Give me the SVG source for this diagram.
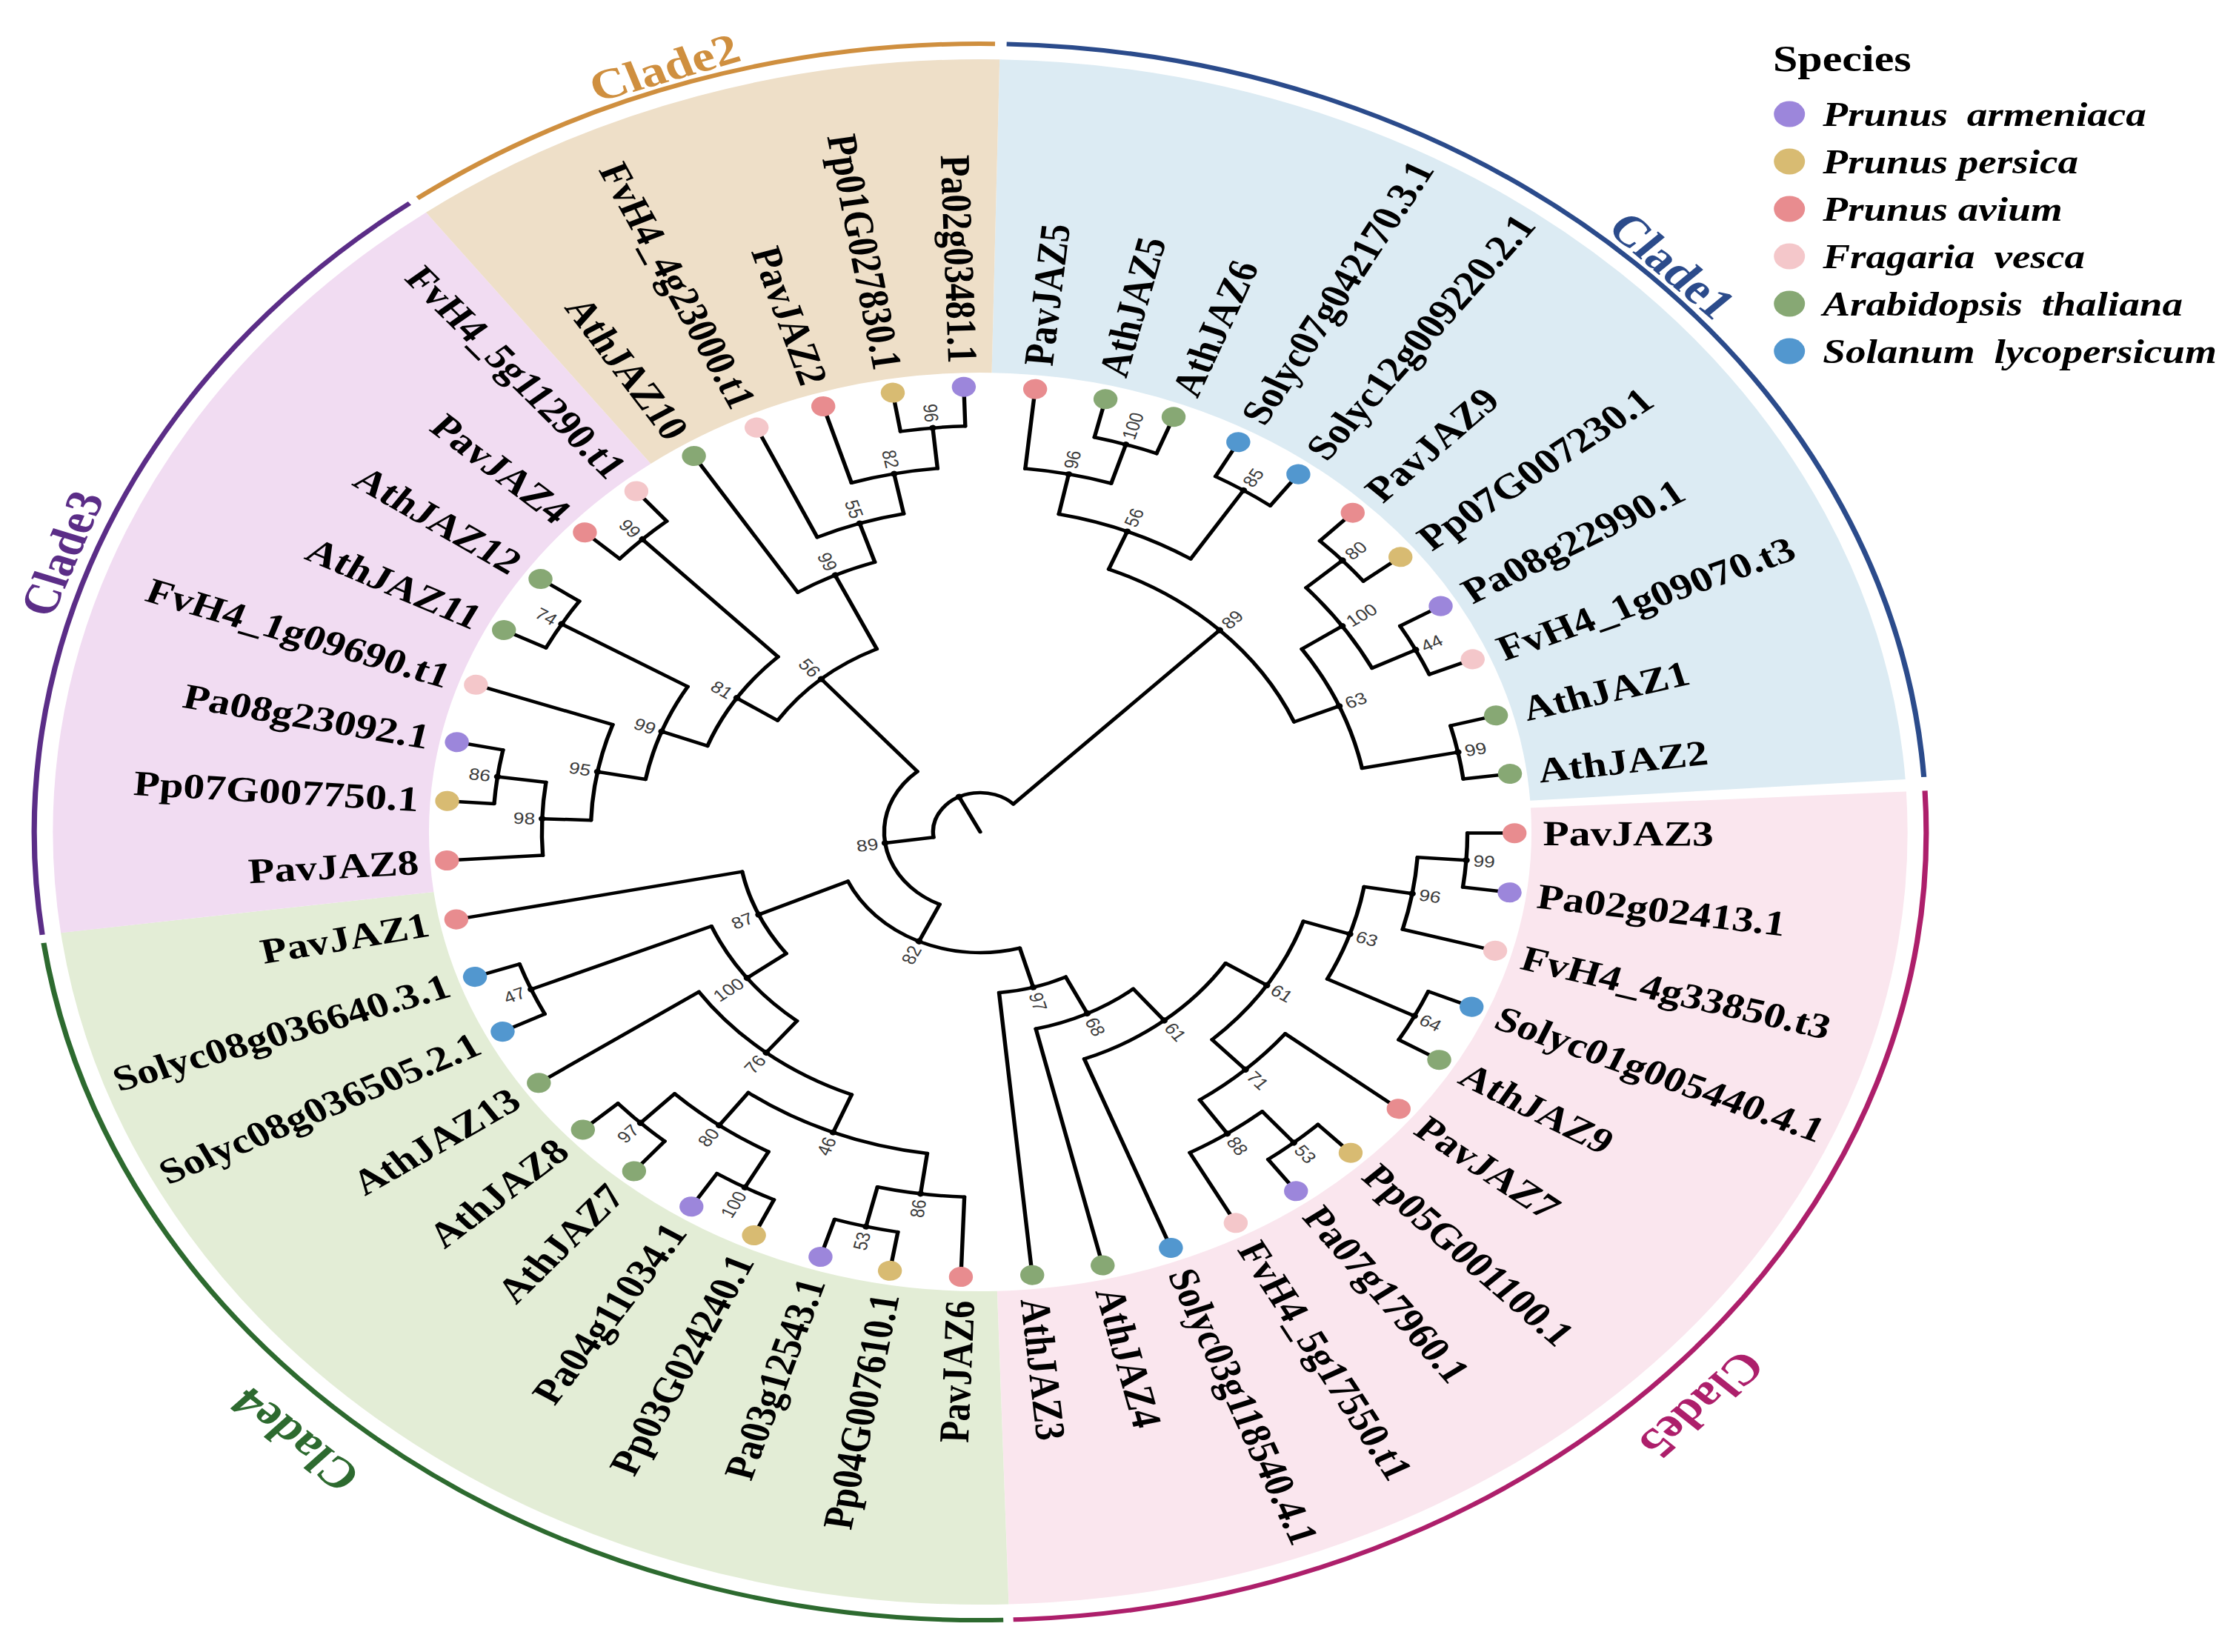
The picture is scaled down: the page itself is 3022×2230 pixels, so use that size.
<svg xmlns="http://www.w3.org/2000/svg" width="3022" height="2230" viewBox="0 0 3022 2230">
<style>
.e{fill:none;stroke:#000;stroke-width:4.5;stroke-linecap:round}
.lf{font-family:"Liberation Serif","Times New Roman",serif;font-size:48px;font-weight:bold;fill:#000}
.bs{font-family:"Liberation Sans",Arial,sans-serif;font-size:22px;fill:#3a3a3a}
.nd{fill:#000}
.cl{font-family:"Liberation Serif","Times New Roman",serif;font-size:58px;font-weight:bold;text-anchor:middle}
.bg{fill:none;stroke-width:423}
.rg{fill:none;stroke-width:6}
.lh{font-family:"Liberation Serif","Times New Roman",serif;font-size:50px;font-weight:bold;fill:#000}
.li{font-family:"Liberation Serif","Times New Roman",serif;font-size:46px;font-weight:bold;font-style:italic;fill:#000}
.pa{fill:#9C86DB}.pp{fill:#D8BB72}.pv{fill:#E88C8F}.fv{fill:#F4C7CA}.at{fill:#87A874}.sl{fill:#5297CF}
</style>
<g transform="translate(1323,1123) scale(1.2,1)">
<g id="clade-backgrounds">
<circle class="bg" r="831.5" pathLength="360" stroke-dasharray="84.9 400" transform="rotate(-88.8)" stroke="#DCEBF3"/>
<circle class="bg" r="831.5" pathLength="360" stroke-dasharray="91.24 400" transform="rotate(-3)" stroke="#FAE6EE"/>
<circle class="bg" r="831.5" pathLength="360" stroke-dasharray="84.26 400" transform="rotate(88.24)" stroke="#E3EDD6"/>
<circle class="bg" r="831.5" pathLength="360" stroke-dasharray="60.8 400" transform="rotate(172.5)" stroke="#F1DCF2"/>
<circle class="bg" r="831.5" pathLength="360" stroke-dasharray="37.9 400" transform="rotate(233.3)" stroke="#EEDFC8"/>
</g>
<g id="clade-rings">
<circle class="rg" r="1064" pathLength="360" stroke-dasharray="84.4 400" transform="rotate(-88.4)" stroke="#2B4B8B"/>
<circle class="rg" r="1064" pathLength="360" stroke-dasharray="91 400" transform="rotate(-3)" stroke="#AD1F6B"/>
<circle class="rg" r="1064" pathLength="360" stroke-dasharray="83.3 400" transform="rotate(88.6)" stroke="#2D6A2F"/>
<circle class="rg" r="1064" pathLength="360" stroke-dasharray="60.4 400" transform="rotate(172.5)" stroke="#5B2D87"/>
<circle class="rg" r="1064" pathLength="360" stroke-dasharray="37.4 400" transform="rotate(233.5)" stroke="#CF8F3F"/>
</g>
<g id="clade-labels">
<text class="cl" y="-1092" dy=".35em" transform="rotate(45.5)" fill="#2B4B8B">Clade1</text>
<text class="cl" y="-1092" dy=".35em" transform="rotate(341)" fill="#CF8F3F">Clade2</text>
<text class="cl" y="-1100" dy=".35em" transform="rotate(290)" fill="#5B2D87">Clade3</text>
<text class="cl" y="-1127" dy=".35em" transform="rotate(223.2)" fill="#2D6A2F">Clade4</text>
<text class="cl" y="-1122" dy=".35em" transform="rotate(133.6)" fill="#AD1F6B">Clade5</text>
</g>
<g id="connectors">
<line class="e" x1="0" x2="53" transform="rotate(243.36)"/>
<line class="e" x1="53" x2="108" transform="rotate(172.05)"/>
<line class="e" x1="53" x2="383" transform="rotate(-45.32)"/>
<line class="e" x1="108" x2="163" transform="rotate(114.99)"/>
<line class="e" x1="108" x2="273" transform="rotate(229.11)"/>
<line class="e" x1="163" x2="218" transform="rotate(74.12)"/>
<line class="e" x1="163" x2="273" transform="rotate(155.86)"/>
<line class="e" x1="218" x2="273" transform="rotate(63.83)"/>
<line class="e" x1="218" x2="601" transform="rotate(84.411)"/>
<line class="e" x1="273" x2="328" transform="rotate(50.90)"/>
<line class="e" x1="273" x2="601" transform="rotate(76.751)"/>
<line class="e" x1="328" x2="383" transform="rotate(32.71)"/>
<line class="e" x1="328" x2="601" transform="rotate(69.092)"/>
<line class="e" x1="383" x2="438" transform="rotate(18.35)"/>
<line class="e" x1="383" x2="438" transform="rotate(47.07)"/>
<line class="e" x1="438" x2="493" transform="rotate(9.73)"/>
<line class="e" x1="438" x2="548" transform="rotate(26.96)"/>
<line class="e" x1="493" x2="548" transform="rotate(3.99)"/>
<line class="e" x1="493" x2="601" transform="rotate(15.475)"/>
<line class="e" x1="548" x2="601" transform="rotate(0.156)"/>
<line class="e" x1="548" x2="601" transform="rotate(7.815)"/>
<line class="e" x1="548" x2="601" transform="rotate(23.134)"/>
<line class="e" x1="548" x2="601" transform="rotate(30.794)"/>
<line class="e" x1="438" x2="601" transform="rotate(38.454)"/>
<line class="e" x1="438" x2="493" transform="rotate(55.69)"/>
<line class="e" x1="493" x2="548" transform="rotate(49.94)"/>
<line class="e" x1="493" x2="601" transform="rotate(61.432)"/>
<line class="e" x1="548" x2="601" transform="rotate(46.113)"/>
<line class="e" x1="548" x2="601" transform="rotate(53.773)"/>
<line class="e" x1="273" x2="328" transform="rotate(143.05)"/>
<line class="e" x1="273" x2="601" transform="rotate(168.667)"/>
<line class="e" x1="328" x2="383" transform="rotate(128.93)"/>
<line class="e" x1="328" x2="548" transform="rotate(157.18)"/>
<line class="e" x1="548" x2="601" transform="rotate(153.348)"/>
<line class="e" x1="548" x2="601" transform="rotate(161.007)"/>
<line class="e" x1="383" x2="438" transform="rotate(112.18)"/>
<line class="e" x1="383" x2="601" transform="rotate(145.688)"/>
<line class="e" x1="438" x2="493" transform="rotate(97.82)"/>
<line class="e" x1="438" x2="493" transform="rotate(126.54)"/>
<line class="e" x1="493" x2="548" transform="rotate(103.56)"/>
<line class="e" x1="493" x2="601" transform="rotate(92.071)"/>
<line class="e" x1="493" x2="548" transform="rotate(118.88)"/>
<line class="e" x1="493" x2="548" transform="rotate(134.20)"/>
<line class="e" x1="548" x2="601" transform="rotate(99.730)"/>
<line class="e" x1="548" x2="601" transform="rotate(107.390)"/>
<line class="e" x1="548" x2="601" transform="rotate(115.049)"/>
<line class="e" x1="548" x2="601" transform="rotate(122.709)"/>
<line class="e" x1="548" x2="601" transform="rotate(130.369)"/>
<line class="e" x1="548" x2="601" transform="rotate(138.028)"/>
<line class="e" x1="273" x2="328" transform="rotate(213.43)"/>
<line class="e" x1="273" x2="383" transform="rotate(244.78)"/>
<line class="e" x1="328" x2="383" transform="rotate(200.74)"/>
<line class="e" x1="328" x2="548" transform="rotate(226.11)"/>
<line class="e" x1="383" x2="438" transform="rotate(190.69)"/>
<line class="e" x1="383" x2="548" transform="rotate(210.80)"/>
<line class="e" x1="438" x2="493" transform="rotate(182.07)"/>
<line class="e" x1="438" x2="601" transform="rotate(199.305)"/>
<line class="e" x1="493" x2="548" transform="rotate(187.82)"/>
<line class="e" x1="493" x2="601" transform="rotate(176.326)"/>
<line class="e" x1="548" x2="601" transform="rotate(183.986)"/>
<line class="e" x1="548" x2="601" transform="rotate(191.646)"/>
<line class="e" x1="548" x2="601" transform="rotate(206.965)"/>
<line class="e" x1="548" x2="601" transform="rotate(214.624)"/>
<line class="e" x1="548" x2="601" transform="rotate(222.284)"/>
<line class="e" x1="548" x2="601" transform="rotate(229.944)"/>
<line class="e" x1="383" x2="601" transform="rotate(237.603)"/>
<line class="e" x1="383" x2="438" transform="rotate(251.97)"/>
<line class="e" x1="438" x2="601" transform="rotate(245.263)"/>
<line class="e" x1="438" x2="493" transform="rotate(258.67)"/>
<line class="e" x1="493" x2="601" transform="rotate(252.922)"/>
<line class="e" x1="493" x2="548" transform="rotate(264.41)"/>
<line class="e" x1="548" x2="601" transform="rotate(260.582)"/>
<line class="e" x1="548" x2="601" transform="rotate(268.242)"/>
<line class="e" x1="383" x2="438" transform="rotate(-67.82)"/>
<line class="e" x1="383" x2="438" transform="rotate(-22.82)"/>
<line class="e" x1="438" x2="493" transform="rotate(-78.35)"/>
<line class="e" x1="438" x2="548" transform="rotate(-57.29)"/>
<line class="e" x1="493" x2="548" transform="rotate(-72.61)"/>
<line class="e" x1="493" x2="601" transform="rotate(-84.099)"/>
<line class="e" x1="438" x2="493" transform="rotate(-34.31)"/>
<line class="e" x1="438" x2="548" transform="rotate(-11.33)"/>
<line class="e" x1="493" x2="548" transform="rotate(-41.97)"/>
<line class="e" x1="493" x2="548" transform="rotate(-26.65)"/>
<line class="e" x1="548" x2="601" transform="rotate(-76.439)"/>
<line class="e" x1="548" x2="601" transform="rotate(-68.780)"/>
<line class="e" x1="548" x2="601" transform="rotate(-61.120)"/>
<line class="e" x1="548" x2="601" transform="rotate(-53.460)"/>
<line class="e" x1="548" x2="601" transform="rotate(-45.801)"/>
<line class="e" x1="548" x2="601" transform="rotate(-38.141)"/>
<line class="e" x1="548" x2="601" transform="rotate(-30.482)"/>
<line class="e" x1="548" x2="601" transform="rotate(-22.822)"/>
<line class="e" x1="548" x2="601" transform="rotate(-15.162)"/>
<line class="e" x1="548" x2="601" transform="rotate(-7.503)"/>
<circle class="e" r="53" pathLength="360" stroke-dasharray="142.63 400" transform="rotate(172.05)"/>
<circle class="e" r="108" pathLength="360" stroke-dasharray="114.12 400" transform="rotate(114.99)"/>
<circle class="e" r="163" pathLength="360" stroke-dasharray="81.74 400" transform="rotate(74.12)"/>
<circle class="e" r="273" pathLength="360" stroke-dasharray="31.35 400" transform="rotate(213.43)"/>
<circle class="e" r="218" pathLength="360" stroke-dasharray="20.58 400" transform="rotate(63.83)"/>
<circle class="e" r="273" pathLength="360" stroke-dasharray="25.62 400" transform="rotate(143.05)"/>
<circle class="e" r="273" pathLength="360" stroke-dasharray="25.85 400" transform="rotate(50.90)"/>
<circle class="e" r="328" pathLength="360" stroke-dasharray="36.38 400" transform="rotate(32.71)"/>
<circle class="e" r="383" pathLength="360" stroke-dasharray="28.72 400" transform="rotate(18.35)"/>
<circle class="e" r="438" pathLength="360" stroke-dasharray="17.23 400" transform="rotate(9.73)"/>
<circle class="e" r="438" pathLength="360" stroke-dasharray="17.24 400" transform="rotate(38.45)"/>
<circle class="e" r="493" pathLength="360" stroke-dasharray="11.49 400" transform="rotate(3.99)"/>
<circle class="e" r="548" pathLength="360" stroke-dasharray="7.66 400" transform="rotate(23.13)"/>
<circle class="e" r="548" pathLength="360" stroke-dasharray="7.66 400" transform="rotate(0.16)"/>
<circle class="e" r="493" pathLength="360" stroke-dasharray="11.49 400" transform="rotate(49.94)"/>
<circle class="e" r="548" pathLength="360" stroke-dasharray="7.66 400" transform="rotate(46.11)"/>
<circle class="e" r="328" pathLength="360" stroke-dasharray="28.25 400" transform="rotate(128.93)"/>
<circle class="e" r="383" pathLength="360" stroke-dasharray="33.51 400" transform="rotate(112.18)"/>
<circle class="e" r="548" pathLength="360" stroke-dasharray="7.66 400" transform="rotate(153.35)"/>
<circle class="e" r="438" pathLength="360" stroke-dasharray="28.72 400" transform="rotate(97.82)"/>
<circle class="e" r="493" pathLength="360" stroke-dasharray="11.49 400" transform="rotate(92.07)"/>
<circle class="e" r="493" pathLength="360" stroke-dasharray="15.32 400" transform="rotate(118.88)"/>
<circle class="e" r="548" pathLength="360" stroke-dasharray="7.66 400" transform="rotate(99.73)"/>
<circle class="e" r="548" pathLength="360" stroke-dasharray="7.66 400" transform="rotate(115.05)"/>
<circle class="e" r="548" pathLength="360" stroke-dasharray="7.66 400" transform="rotate(130.37)"/>
<circle class="e" r="328" pathLength="360" stroke-dasharray="25.37 400" transform="rotate(200.74)"/>
<circle class="e" r="383" pathLength="360" stroke-dasharray="14.37 400" transform="rotate(237.60)"/>
<circle class="e" r="383" pathLength="360" stroke-dasharray="20.11 400" transform="rotate(190.69)"/>
<circle class="e" r="548" pathLength="360" stroke-dasharray="7.66 400" transform="rotate(222.28)"/>
<circle class="e" r="438" pathLength="360" stroke-dasharray="17.24 400" transform="rotate(182.07)"/>
<circle class="e" r="548" pathLength="360" stroke-dasharray="7.66 400" transform="rotate(206.97)"/>
<circle class="e" r="493" pathLength="360" stroke-dasharray="11.49 400" transform="rotate(176.33)"/>
<circle class="e" r="548" pathLength="360" stroke-dasharray="7.66 400" transform="rotate(183.99)"/>
<circle class="e" r="438" pathLength="360" stroke-dasharray="13.41 400" transform="rotate(245.26)"/>
<circle class="e" r="493" pathLength="360" stroke-dasharray="11.49 400" transform="rotate(252.92)"/>
<circle class="e" r="548" pathLength="360" stroke-dasharray="7.66 400" transform="rotate(260.58)"/>
<circle class="e" r="383" pathLength="360" stroke-dasharray="45 400" transform="rotate(-67.82)"/>
<circle class="e" r="438" pathLength="360" stroke-dasharray="21.06 400" transform="rotate(-78.35)"/>
<circle class="e" r="438" pathLength="360" stroke-dasharray="22.98 400" transform="rotate(-34.31)"/>
<circle class="e" r="493" pathLength="360" stroke-dasharray="11.49 400" transform="rotate(-84.10)"/>
<circle class="e" r="548" pathLength="360" stroke-dasharray="7.66 400" transform="rotate(-61.12)"/>
<circle class="e" r="548" pathLength="360" stroke-dasharray="7.66 400" transform="rotate(-76.44)"/>
<circle class="e" r="493" pathLength="360" stroke-dasharray="15.32 400" transform="rotate(-41.97)"/>
<circle class="e" r="548" pathLength="360" stroke-dasharray="7.66 400" transform="rotate(-15.16)"/>
<circle class="e" r="548" pathLength="360" stroke-dasharray="7.66 400" transform="rotate(-45.80)"/>
<circle class="e" r="548" pathLength="360" stroke-dasharray="7.66 400" transform="rotate(-30.48)"/>
</g>
<g id="internal-nodes">
<g id="root" transform="rotate(243.36)"><circle class="nd" cx="53" r="4"/></g>
<g id="n89a" transform="rotate(172.05)"><circle class="nd" cx="108" r="4"/><text class="bs" x="-116" dy=".35em" text-anchor="end" transform="rotate(180)">89</text></g>
<g id="n89b" transform="rotate(-45.32)"><circle class="nd" cx="383" r="4"/><text class="bs" x="391" dy=".35em">89</text></g>
<g id="n82a" transform="rotate(114.99)"><circle class="nd" cx="163" r="4"/><text class="bs" x="-171" dy=".35em" text-anchor="end" transform="rotate(180)">82</text></g>
<g id="n56a" transform="rotate(229.11)"><circle class="nd" cx="273" r="4"/><text class="bs" x="-281" dy=".35em" text-anchor="end" transform="rotate(180)">56</text></g>
<g id="n97a" transform="rotate(74.12)"><circle class="nd" cx="218" r="4"/><text class="bs" x="226" dy=".35em">97</text></g>
<g id="n87" transform="rotate(155.86)"><circle class="nd" cx="273" r="4"/><text class="bs" x="-281" dy=".35em" text-anchor="end" transform="rotate(180)">87</text></g>
<g id="n68" transform="rotate(63.83)"><circle class="nd" cx="273" r="4"/><text class="bs" x="281" dy=".35em">68</text></g>
<g id="n61b" transform="rotate(50.90)"><circle class="nd" cx="328" r="4"/><text class="bs" x="336" dy=".35em">61</text></g>
<g id="n61a" transform="rotate(32.71)"><circle class="nd" cx="383" r="4"/><text class="bs" x="391" dy=".35em">61</text></g>
<g id="n63a" transform="rotate(18.35)"><circle class="nd" cx="438" r="4"/><text class="bs" x="446" dy=".35em">63</text></g>
<g id="n71" transform="rotate(47.07)"><circle class="nd" cx="438" r="4"/><text class="bs" x="446" dy=".35em">71</text></g>
<g id="n96a" transform="rotate(9.73)"><circle class="nd" cx="493" r="4"/><text class="bs" x="501" dy=".35em">96</text></g>
<g id="n64" transform="rotate(26.96)"><circle class="nd" cx="548" r="4"/><text class="bs" x="556" dy=".35em">64</text></g>
<g id="n99a" transform="rotate(3.99)"><circle class="nd" cx="548" r="4"/><text class="bs" x="556" dy=".35em">99</text></g>
<g id="n88" transform="rotate(55.69)"><circle class="nd" cx="493" r="4"/><text class="bs" x="501" dy=".35em">88</text></g>
<g id="n53a" transform="rotate(49.94)"><circle class="nd" cx="548" r="4"/><text class="bs" x="556" dy=".35em">53</text></g>
<g id="n100a" transform="rotate(143.05)"><circle class="nd" cx="328" r="4"/><text class="bs" x="-336" dy=".35em" text-anchor="end" transform="rotate(180)">100</text></g>
<g id="n76" transform="rotate(128.93)"><circle class="nd" cx="383" r="4"/><text class="bs" x="-391" dy=".35em" text-anchor="end" transform="rotate(180)">76</text></g>
<g id="n47" transform="rotate(157.18)"><circle class="nd" cx="548" r="4"/><text class="bs" x="-556" dy=".35em" text-anchor="end" transform="rotate(180)">47</text></g>
<g id="n46" transform="rotate(112.18)"><circle class="nd" cx="438" r="4"/><text class="bs" x="-446" dy=".35em" text-anchor="end" transform="rotate(180)">46</text></g>
<g id="n86a" transform="rotate(97.82)"><circle class="nd" cx="493" r="4"/><text class="bs" x="-501" dy=".35em" text-anchor="end" transform="rotate(180)">86</text></g>
<g id="n80a" transform="rotate(126.54)"><circle class="nd" cx="493" r="4"/><text class="bs" x="-501" dy=".35em" text-anchor="end" transform="rotate(180)">80</text></g>
<g id="n53b" transform="rotate(103.56)"><circle class="nd" cx="548" r="4"/><text class="bs" x="-556" dy=".35em" text-anchor="end" transform="rotate(180)">53</text></g>
<g id="n100b" transform="rotate(118.88)"><circle class="nd" cx="548" r="4"/><text class="bs" x="-556" dy=".35em" text-anchor="end" transform="rotate(180)">100</text></g>
<g id="n97b" transform="rotate(134.20)"><circle class="nd" cx="548" r="4"/><text class="bs" x="-556" dy=".35em" text-anchor="end" transform="rotate(180)">97</text></g>
<g id="n81" transform="rotate(213.43)"><circle class="nd" cx="328" r="4"/><text class="bs" x="-336" dy=".35em" text-anchor="end" transform="rotate(180)">81</text></g>
<g id="n99b" transform="rotate(244.78)"><circle class="nd" cx="383" r="4"/><text class="bs" x="-391" dy=".35em" text-anchor="end" transform="rotate(180)">99</text></g>
<g id="n99c" transform="rotate(200.74)"><circle class="nd" cx="383" r="4"/><text class="bs" x="-391" dy=".35em" text-anchor="end" transform="rotate(180)">99</text></g>
<g id="n99d" transform="rotate(226.11)"><circle class="nd" cx="548" r="4"/><text class="bs" x="-556" dy=".35em" text-anchor="end" transform="rotate(180)">99</text></g>
<g id="n95" transform="rotate(190.69)"><circle class="nd" cx="438" r="4"/><text class="bs" x="-446" dy=".35em" text-anchor="end" transform="rotate(180)">95</text></g>
<g id="n74" transform="rotate(210.80)"><circle class="nd" cx="548" r="4"/><text class="bs" x="-556" dy=".35em" text-anchor="end" transform="rotate(180)">74</text></g>
<g id="n98" transform="rotate(182.07)"><circle class="nd" cx="493" r="4"/><text class="bs" x="-501" dy=".35em" text-anchor="end" transform="rotate(180)">98</text></g>
<g id="n86b" transform="rotate(187.82)"><circle class="nd" cx="548" r="4"/><text class="bs" x="-556" dy=".35em" text-anchor="end" transform="rotate(180)">86</text></g>
<g id="n55" transform="rotate(251.97)"><circle class="nd" cx="438" r="4"/><text class="bs" x="-446" dy=".35em" text-anchor="end" transform="rotate(180)">55</text></g>
<g id="n82b" transform="rotate(258.67)"><circle class="nd" cx="493" r="4"/><text class="bs" x="-501" dy=".35em" text-anchor="end" transform="rotate(180)">82</text></g>
<g id="n96b" transform="rotate(264.41)"><circle class="nd" cx="548" r="4"/><text class="bs" x="-556" dy=".35em" text-anchor="end" transform="rotate(180)">96</text></g>
<g id="n56b" transform="rotate(-67.82)"><circle class="nd" cx="438" r="4"/><text class="bs" x="446" dy=".35em">56</text></g>
<g id="n63b" transform="rotate(-22.82)"><circle class="nd" cx="438" r="4"/><text class="bs" x="446" dy=".35em">63</text></g>
<g id="n96c" transform="rotate(-78.35)"><circle class="nd" cx="493" r="4"/><text class="bs" x="501" dy=".35em">96</text></g>
<g id="n85" transform="rotate(-57.29)"><circle class="nd" cx="548" r="4"/><text class="bs" x="556" dy=".35em">85</text></g>
<g id="n100c" transform="rotate(-72.61)"><circle class="nd" cx="548" r="4"/><text class="bs" x="556" dy=".35em">100</text></g>
<g id="n100d" transform="rotate(-34.31)"><circle class="nd" cx="493" r="4"/><text class="bs" x="501" dy=".35em">100</text></g>
<g id="n99e" transform="rotate(-11.33)"><circle class="nd" cx="548" r="4"/><text class="bs" x="556" dy=".35em">99</text></g>
<g id="n80b" transform="rotate(-41.97)"><circle class="nd" cx="548" r="4"/><text class="bs" x="556" dy=".35em">80</text></g>
<g id="n44" transform="rotate(-26.65)"><circle class="nd" cx="548" r="4"/><text class="bs" x="556" dy=".35em">44</text></g>
</g>
<g id="leaves">
<g id="PavJAZ5" transform="rotate(-84.099)"><circle class="pv" cx="601" r="13.5"/><text class="lf" x="633" dy=".34em">PavJAZ5</text></g>
<g id="AthJAZ5" transform="rotate(-76.439)"><circle class="at" cx="601" r="13.5"/><text class="lf" x="633" dy=".34em">AthJAZ5</text></g>
<g id="AthJAZ6" transform="rotate(-68.780)"><circle class="at" cx="601" r="13.5"/><text class="lf" x="633" dy=".34em">AthJAZ6</text></g>
<g id="Solyc07g042170.3.1" transform="rotate(-61.120)"><circle class="sl" cx="601" r="13.5"/><text class="lf" x="633" dy=".34em">Solyc07g042170.3.1</text></g>
<g id="Solyc12g009220.2.1" transform="rotate(-53.460)"><circle class="sl" cx="601" r="13.5"/><text class="lf" x="633" dy=".34em">Solyc12g009220.2.1</text></g>
<g id="PavJAZ9" transform="rotate(-45.801)"><circle class="pv" cx="601" r="13.5"/><text class="lf" x="633" dy=".34em">PavJAZ9</text></g>
<g id="Pp07G007230.1" transform="rotate(-38.141)"><circle class="pp" cx="601" r="13.5"/><text class="lf" x="633" dy=".34em">Pp07G007230.1</text></g>
<g id="Pa08g22990.1" transform="rotate(-30.482)"><circle class="pa" cx="601" r="13.5"/><text class="lf" x="633" dy=".34em">Pa08g22990.1</text></g>
<g id="FvH4_1g09070.t3" transform="rotate(-22.822)"><circle class="fv" cx="601" r="13.5"/><text class="lf" x="633" dy=".34em">FvH4_1g09070.t3</text></g>
<g id="AthJAZ1" transform="rotate(-15.162)"><circle class="at" cx="601" r="13.5"/><text class="lf" x="633" dy=".34em">AthJAZ1</text></g>
<g id="AthJAZ2" transform="rotate(-7.503)"><circle class="at" cx="601" r="13.5"/><text class="lf" x="633" dy=".34em">AthJAZ2</text></g>
<g id="PavJAZ3" transform="rotate(0.156)"><circle class="pv" cx="601" r="13.5"/><text class="lf" x="633" dy=".34em">PavJAZ3</text></g>
<g id="Pa02g02413.1" transform="rotate(7.815)"><circle class="pa" cx="601" r="13.5"/><text class="lf" x="633" dy=".34em">Pa02g02413.1</text></g>
<g id="FvH4_4g33850.t3" transform="rotate(15.475)"><circle class="fv" cx="601" r="13.5"/><text class="lf" x="633" dy=".34em">FvH4_4g33850.t3</text></g>
<g id="Solyc01g005440.4.1" transform="rotate(23.134)"><circle class="sl" cx="601" r="13.5"/><text class="lf" x="633" dy=".34em">Solyc01g005440.4.1</text></g>
<g id="AthJAZ9" transform="rotate(30.794)"><circle class="at" cx="601" r="13.5"/><text class="lf" x="633" dy=".34em">AthJAZ9</text></g>
<g id="PavJAZ7" transform="rotate(38.454)"><circle class="pv" cx="601" r="13.5"/><text class="lf" x="633" dy=".34em">PavJAZ7</text></g>
<g id="Pp05G001100.1" transform="rotate(46.113)"><circle class="pp" cx="601" r="13.5"/><text class="lf" x="633" dy=".34em">Pp05G001100.1</text></g>
<g id="Pa07g17960.1" transform="rotate(53.773)"><circle class="pa" cx="601" r="13.5"/><text class="lf" x="633" dy=".34em">Pa07g17960.1</text></g>
<g id="FvH4_5g17550.t1" transform="rotate(61.432)"><circle class="fv" cx="601" r="13.5"/><text class="lf" x="633" dy=".34em">FvH4_5g17550.t1</text></g>
<g id="Solyc03g118540.4.1" transform="rotate(69.092)"><circle class="sl" cx="601" r="13.5"/><text class="lf" x="633" dy=".34em">Solyc03g118540.4.1</text></g>
<g id="AthJAZ4" transform="rotate(76.751)"><circle class="at" cx="601" r="13.5"/><text class="lf" x="633" dy=".34em">AthJAZ4</text></g>
<g id="AthJAZ3" transform="rotate(84.411)"><circle class="at" cx="601" r="13.5"/><text class="lf" x="633" dy=".34em">AthJAZ3</text></g>
<g id="PavJAZ6" transform="rotate(92.071)"><circle class="pv" cx="601" r="13.5"/><text class="lf" x="-633" dy=".34em" text-anchor="end" transform="rotate(180)">PavJAZ6</text></g>
<g id="Pp04G007610.1" transform="rotate(99.730)"><circle class="pp" cx="601" r="13.5"/><text class="lf" x="-633" dy=".34em" text-anchor="end" transform="rotate(180)">Pp04G007610.1</text></g>
<g id="Pa03g12543.1" transform="rotate(107.390)"><circle class="pa" cx="601" r="13.5"/><text class="lf" x="-633" dy=".34em" text-anchor="end" transform="rotate(180)">Pa03g12543.1</text></g>
<g id="Pp03G024240.1" transform="rotate(115.049)"><circle class="pp" cx="601" r="13.5"/><text class="lf" x="-633" dy=".34em" text-anchor="end" transform="rotate(180)">Pp03G024240.1</text></g>
<g id="Pa04g11034.1" transform="rotate(122.709)"><circle class="pa" cx="601" r="13.5"/><text class="lf" x="-633" dy=".34em" text-anchor="end" transform="rotate(180)">Pa04g11034.1</text></g>
<g id="AthJAZ7" transform="rotate(130.369)"><circle class="at" cx="601" r="13.5"/><text class="lf" x="-633" dy=".34em" text-anchor="end" transform="rotate(180)">AthJAZ7</text></g>
<g id="AthJAZ8" transform="rotate(138.028)"><circle class="at" cx="601" r="13.5"/><text class="lf" x="-633" dy=".34em" text-anchor="end" transform="rotate(180)">AthJAZ8</text></g>
<g id="AthJAZ13" transform="rotate(145.688)"><circle class="at" cx="601" r="13.5"/><text class="lf" x="-633" dy=".34em" text-anchor="end" transform="rotate(180)">AthJAZ13</text></g>
<g id="Solyc08g036505.2.1" transform="rotate(153.348)"><circle class="sl" cx="601" r="13.5"/><text class="lf" x="-633" dy=".34em" text-anchor="end" transform="rotate(180)">Solyc08g036505.2.1</text></g>
<g id="Solyc08g036640.3.1" transform="rotate(161.007)"><circle class="sl" cx="601" r="13.5"/><text class="lf" x="-633" dy=".34em" text-anchor="end" transform="rotate(180)">Solyc08g036640.3.1</text></g>
<g id="PavJAZ1" transform="rotate(168.667)"><circle class="pv" cx="601" r="13.5"/><text class="lf" x="-633" dy=".34em" text-anchor="end" transform="rotate(180)">PavJAZ1</text></g>
<g id="PavJAZ8" transform="rotate(176.326)"><circle class="pv" cx="601" r="13.5"/><text class="lf" x="-633" dy=".34em" text-anchor="end" transform="rotate(180)">PavJAZ8</text></g>
<g id="Pp07G007750.1" transform="rotate(183.986)"><circle class="pp" cx="601" r="13.5"/><text class="lf" x="-633" dy=".34em" text-anchor="end" transform="rotate(180)">Pp07G007750.1</text></g>
<g id="Pa08g23092.1" transform="rotate(191.646)"><circle class="pa" cx="601" r="13.5"/><text class="lf" x="-633" dy=".34em" text-anchor="end" transform="rotate(180)">Pa08g23092.1</text></g>
<g id="FvH4_1g09690.t1" transform="rotate(199.305)"><circle class="fv" cx="601" r="13.5"/><text class="lf" x="-633" dy=".34em" text-anchor="end" transform="rotate(180)">FvH4_1g09690.t1</text></g>
<g id="AthJAZ11" transform="rotate(206.965)"><circle class="at" cx="601" r="13.5"/><text class="lf" x="-633" dy=".34em" text-anchor="end" transform="rotate(180)">AthJAZ11</text></g>
<g id="AthJAZ12" transform="rotate(214.624)"><circle class="at" cx="601" r="13.5"/><text class="lf" x="-633" dy=".34em" text-anchor="end" transform="rotate(180)">AthJAZ12</text></g>
<g id="PavJAZ4" transform="rotate(222.284)"><circle class="pv" cx="601" r="13.5"/><text class="lf" x="-633" dy=".34em" text-anchor="end" transform="rotate(180)">PavJAZ4</text></g>
<g id="FvH4_5g11290.t1" transform="rotate(229.944)"><circle class="fv" cx="601" r="13.5"/><text class="lf" x="-633" dy=".34em" text-anchor="end" transform="rotate(180)">FvH4_5g11290.t1</text></g>
<g id="AthJAZ10" transform="rotate(237.603)"><circle class="at" cx="601" r="13.5"/><text class="lf" x="-633" dy=".34em" text-anchor="end" transform="rotate(180)">AthJAZ10</text></g>
<g id="FvH4_4g23000.t1" transform="rotate(245.263)"><circle class="fv" cx="601" r="13.5"/><text class="lf" x="-633" dy=".34em" text-anchor="end" transform="rotate(180)">FvH4_4g23000.t1</text></g>
<g id="PavJAZ2" transform="rotate(252.922)"><circle class="pv" cx="601" r="13.5"/><text class="lf" x="-633" dy=".34em" text-anchor="end" transform="rotate(180)">PavJAZ2</text></g>
<g id="Pp01G027830.1" transform="rotate(260.582)"><circle class="pp" cx="601" r="13.5"/><text class="lf" x="-633" dy=".34em" text-anchor="end" transform="rotate(180)">Pp01G027830.1</text></g>
<g id="Pa02g03481.1" transform="rotate(268.242)"><circle class="pa" cx="601" r="13.5"/><text class="lf" x="-633" dy=".34em" text-anchor="end" transform="rotate(180)">Pa02g03481.1</text></g>
</g>
</g>
<g id="legend" transform="translate(2393,0) scale(1.2,1)">
<text class="lh" x="0" y="96">Species</text>
<circle class="pa" cx="18.5" cy="154" r="17.5"/><text class="li" x="56" y="170" word-spacing="10">Prunus armeniaca</text>
<circle class="pp" cx="18.5" cy="218" r="17.5"/><text class="li" x="56" y="234">Prunus persica</text>
<circle class="pv" cx="18.5" cy="282" r="17.5"/><text class="li" x="56" y="298">Prunus avium</text>
<circle class="fv" cx="18.5" cy="346" r="17.5"/><text class="li" x="56" y="362" word-spacing="10">Fragaria vesca</text>
<circle class="at" cx="18.5" cy="410" r="17.5"/><text class="li" x="56" y="426" word-spacing="10">Arabidopsis thaliana</text>
<circle class="sl" cx="18.5" cy="474" r="17.5"/><text class="li" x="56" y="490" word-spacing="10">Solanum lycopersicum</text>
</g>
</svg>
